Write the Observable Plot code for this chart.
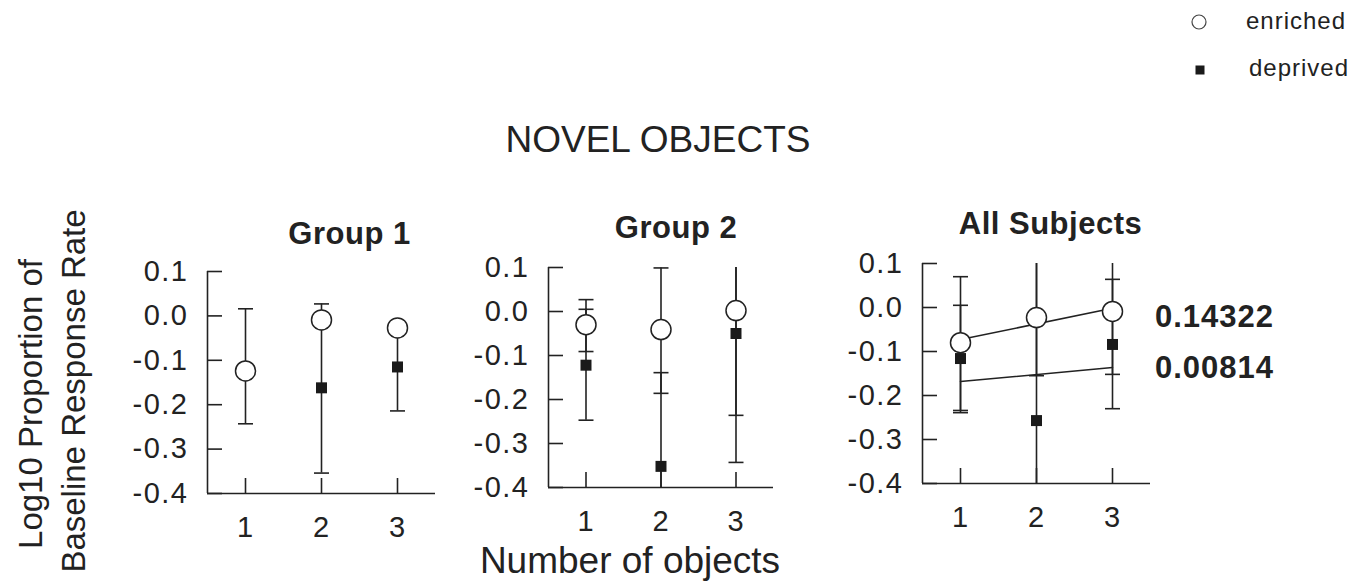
<!DOCTYPE html>
<html>
<head>
<meta charset="utf-8">
<script src="https://cdn.jsdelivr.net/npm/d3@7"></script>
<script src="https://cdn.jsdelivr.net/npm/@observablehq/plot@0.6"></script>
<style>
  body { margin: 0; background: #fff; }
  #chart { position: relative; width: 1355px; height: 583px; overflow: hidden; background: #fff;
           font-family: "Liberation Sans", Arial, sans-serif; color: #222; }
  #chart > svg { position: absolute; overflow: visible; }
</style>
</head>
<body>
<div id="chart"></div>
<script>
// ---- data -------------------------------------------------------------
const panelTitles = ["Group 1", "Group 2", "All Subjects"];
const objectCounts = [1, 2, 3];
const seriesNames = ["enriched", "deprived"];

// means and error-bar limits, one row per panel, one entry per object count
const enrichedMean = [[-0.124, -0.009, -0.027], [-0.030, -0.041, 0.002], [-0.080, -0.023, -0.009]];
const enrichedLow  = [[-0.243, -0.019, -0.037], [-0.091, -0.186, -0.236], [-0.234, -0.155, -0.152]];
const enrichedHigh = [[ 0.016,  0.001, -0.017], [ 0.027,  0.099,  0.240], [ 0.070,  0.109,  0.134]];

const deprivedMean = [[null, -0.162, -0.115], [-0.122, -0.352, -0.050], [-0.116, -0.257, -0.084]];
const deprivedLow  = [[null, -0.354, -0.214], [-0.247, -0.560, -0.343], [-0.239, -0.620, -0.230]];
const deprivedHigh = [[null,  0.027, -0.016], [ 0.005, -0.139,  0.243], [ 0.005,  0.105,  0.064]];

// panels that carry a fitted line through the means
const showFit = [false, false, true];
const fitValues = ["0.14322", "0.00814"];

const xDomain = [0.5, 3.5];
const yDomain = [-0.4, 0.1];
const xTicks = [1, 2, 3];
const yTicks = [0.1, 0.0, -0.1, -0.2, -0.3, -0.4];

// ---- layout -----------------------------------------------------------
const ink = "#222";
const font = "'Liberation Sans', Arial, sans-serif";
const frames = [
  {left: 207, top: 271, width: 228, height: 222, titleDx: 28, titleDy: -28},
  {left: 548, top: 267, width: 225, height: 220, titleDx: 15, titleDy: -30},
  {left: 922, top: 263, width: 228, height: 220, titleDx: 14, titleDy: -30}
];
const mL = 80, mR = 15, mT = 60, mB = 60;

const chart = document.getElementById("chart");

// short horizontal stroke used for error-bar caps
const capSymbol = {
  draw(context, size) {
    const r = Math.sqrt(size / Math.PI);
    context.moveTo(-r, 0);
    context.lineTo(r, 0);
  }
};

function rowsFor(p) {
  const rows = [];
  objectCounts.forEach((x, i) => {
    rows.push({series: "enriched", x, mean: enrichedMean[p][i], low: enrichedLow[p][i], high: enrichedHigh[p][i]});
    rows.push({series: "deprived", x, mean: deprivedMean[p][i], low: deprivedLow[p][i], high: deprivedHigh[p][i]});
  });
  return rows.filter(d => d.mean != null);
}

panelTitles.forEach((title, p) => {
  const f = frames[p];
  const rows = rowsFor(p);
  const enriched = rows.filter(d => d.series === "enriched");
  const deprived = rows.filter(d => d.series === "deprived");

  const plot = Plot.plot({
    width: f.width + mL + mR,
    height: f.height + mT + mB,
    marginLeft: mL, marginRight: mR, marginTop: mT, marginBottom: mB,
    x: {domain: xDomain},
    y: {domain: yDomain},
    style: {fontFamily: font, color: ink, background: "transparent", overflow: "visible"},
    marks: [
      // axis lines
      Plot.ruleX([xDomain[0]], {stroke: ink, strokeWidth: 1.6}),
      Plot.ruleY([yDomain[0]], {stroke: ink, strokeWidth: 1.6}),
      // inward tick marks
      Plot.axisY({ticks: yTicks, anchor: "left", tickSize: 15, dx: 15, fill: "none", label: null, stroke: ink, strokeWidth: 1.6}),
      Plot.axisX({ticks: xTicks, anchor: "bottom", tickSize: 15, dy: -15, fill: "none", label: null, stroke: ink, strokeWidth: 1.6}),
      // tick labels
      Plot.axisY({ticks: yTicks, anchor: "left", tickSize: 0, tickPadding: 19, tickFormat: d => d.toFixed(1),
                  fontSize: 29, fill: "#222", label: null}),
      Plot.axisX({ticks: xTicks, anchor: "bottom", tickSize: 0, tickPadding: 23, tickFormat: d => String(d),
                  fontSize: 29, fill: "#222", label: null}),
      // fitted lines through the means
      showFit[p] ? Plot.linearRegressionY(rows, {x: "x", y: "mean", z: "series", ci: 0, stroke: ink, strokeWidth: 1.5}) : null,
      // error bars
      Plot.ruleX(rows, {x: "x", y1: "low", y2: "high", stroke: ink, strokeWidth: 1.6, clip: true}),
      Plot.dot(rows, {x: "x", y: "low", symbol: capSymbol, r: 7.5, fill: "none", stroke: ink, strokeWidth: 1.6, clip: true}),
      Plot.dot(rows, {x: "x", y: "high", symbol: capSymbol, r: 7.5, fill: "none", stroke: ink, strokeWidth: 1.6, clip: true}),
      // means
      Plot.dot(deprived, {x: "x", y: "mean", symbol: "square", r: 6.2, fill: "#1a1a1a", stroke: null}),
      Plot.dot(enriched, {x: "x", y: "mean", symbol: "circle", r: 10, fill: "white", stroke: ink, strokeWidth: 1.5}),
      // panel title
      Plot.text([title], {text: d => d, frameAnchor: "top", dx: f.titleDx, dy: f.titleDy, lineAnchor: "bottom",
                          fontSize: 31, fontWeight: "bold", fill: "#222"})
    ]
  });
  plot.style.left = (f.left - mL) + "px";
  plot.style.top = (f.top - mT) + "px";
  d3.select(plot).selectAll('g[aria-label="y-axis tick label"]').attr("font-size", 29)
    .selectAll("text").style("letter-spacing", "1.5px");
  d3.select(plot).selectAll('g[aria-label="x-axis tick label"]').attr("font-size", 29)
    .selectAll("text").style("letter-spacing", "1px");
  d3.select(plot).selectAll('g[aria-label="text"] text').style("letter-spacing", "0.5px");
  chart.appendChild(plot);
});

// ---- page text: title, shared axis titles, fit values, legend ----------
const svg = d3.select(chart).insert("svg", ":first-child")
  .attr("width", 1355).attr("height", 583)
  .style("left", "0px").style("top", "0px")
  .attr("font-family", font).attr("fill", "#222");

svg.append("text").attr("x", 658).attr("y", 152).attr("text-anchor", "middle")
  .attr("font-size", 37).text("NOVEL OBJECTS");

svg.append("text").attr("transform", "translate(42,404) rotate(-90)").attr("text-anchor", "middle")
  .attr("font-size", 33).text("Log10 Proportion of");
svg.append("text").attr("transform", "translate(85,391) rotate(-90)").attr("text-anchor", "middle")
  .attr("font-size", 33).text("Baseline Response Rate");

svg.append("text").attr("x", 630).attr("y", 573).attr("text-anchor", "middle")
  .attr("font-size", 37).text("Number of objects");

fitValues.forEach((v, i) => {
  svg.append("text").attr("x", 1155).attr("y", 327 + i * 51)
    .attr("font-size", 31).attr("font-weight", "bold").style("letter-spacing", "1px").text(v);
});

// legend
svg.append("circle").attr("cx", 1199).attr("cy", 22).attr("r", 7)
  .attr("fill", "white").attr("stroke", "#444").attr("stroke-width", 1.2);
svg.append("rect").attr("x", 1195.5).attr("y", 65.5).attr("width", 9).attr("height", 9).attr("fill", "#1a1a1a");
svg.append("text").attr("x", 1246).attr("y", 29).attr("font-size", 24).style("letter-spacing", "1px").text(seriesNames[0]);
svg.append("text").attr("x", 1249).attr("y", 76).attr("font-size", 24).style("letter-spacing", "1px").text(seriesNames[1]);
</script>
</body>
</html>
